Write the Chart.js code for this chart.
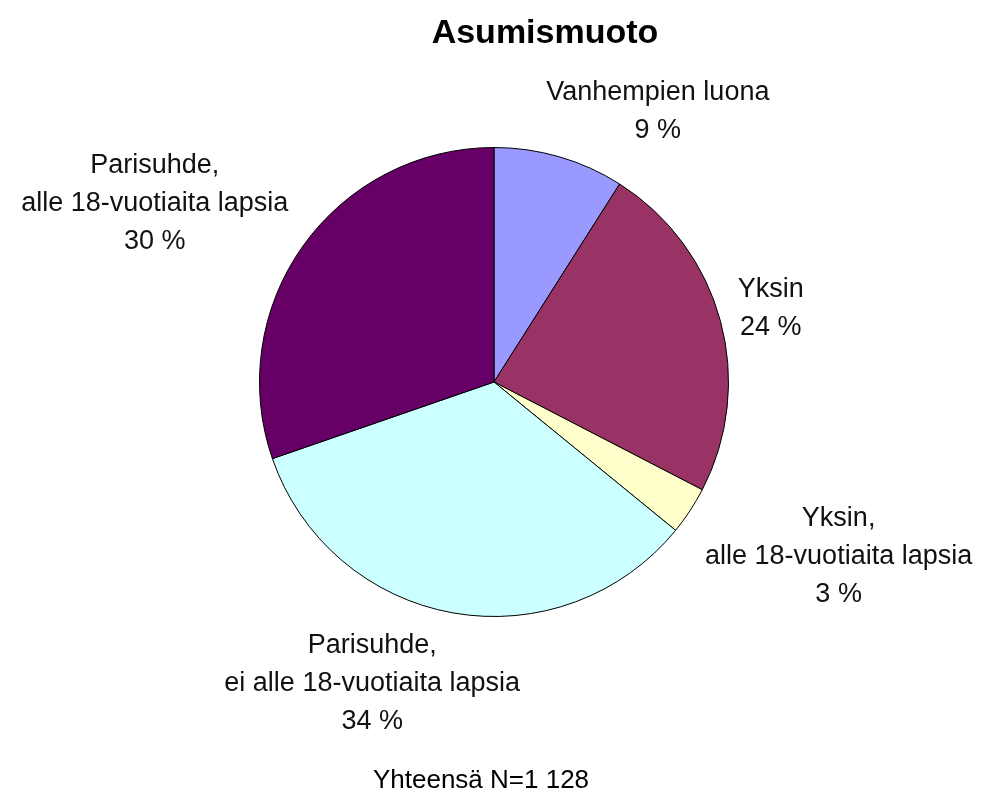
<!DOCTYPE html>
<html>
<head>
<meta charset="utf-8">
<script src="https://cdn.jsdelivr.net/npm/chart.js@4/dist/chart.umd.min.js"></script>
<style>
  html, body { margin: 0; padding: 0; background: #fff; }
  #wrap { width: 991px; height: 801px; position: relative; }
</style>
</head>
<body>
<div id="wrap"><canvas id="c" width="991" height="801"></canvas></div>
<script>
const titleText = "Asumismuoto";
const footerText = "Yhteensä N=1 128";
const categories = [
  ["Vanhempien luona"],
  ["Yksin"],
  ["Yksin,", "alle 18-vuotiaita lapsia"],
  ["Parisuhde,", "ei alle 18-vuotiaita lapsia"],
  ["Parisuhde,", "alle 18-vuotiaita lapsia"]
];
const values = [9.0, 23.6, 3.3, 33.8, 30.3];
const percentLabels = ["9 %", "24 %", "3 %", "34 %", "30 %"];
const colors = ["#9999FF", "#993366", "#FFFFCC", "#CCFFFF", "#660066"];

const FONT = "'Liberation Sans', Arial, sans-serif";

const labelPlugin = {
  id: 'outLabels',
  afterDatasetsDraw(chart) {
    const ctx = chart.ctx;
    const meta = chart.getDatasetMeta(0);
    const fs = 27, lh = 38, pad = 18;
    ctx.save();
    ctx.font = fs + "px " + FONT;
    ctx.fillStyle = "#111";
    ctx.textAlign = "center";
    ctx.textBaseline = "alphabetic";
    meta.data.forEach((arc, i) => {
      const p = arc.getProps(['x','y','startAngle','endAngle','outerRadius'], true);
      const mid = (p.startAngle + p.endAngle) / 2;
      const lines = categories[i].concat([percentLabels[i]]);
      const w = Math.max(...lines.map(l => ctx.measureText(l).width));
      const h = (lines.length - 1) * lh + 24;
      const ax = p.x + (p.outerRadius + pad) * Math.cos(mid);
      const ay = p.y + (p.outerRadius + pad) * Math.sin(mid);
      const fx = Math.min(1, Math.max(0, 0.5 - 1.5 * Math.cos(mid)));
      const fy = Math.min(1, Math.max(0, 0.5 - 0.6 * Math.sin(mid)));
      const left = ax - fx * w, top = ay - fy * h;
      lines.forEach((l, j) => {
        ctx.fillText(l, left + w / 2, top + 12 + lh * j + 10);
      });
    });
    ctx.restore();
  },
  afterDraw(chart) {
    const ctx = chart.ctx;
    ctx.save();
    ctx.fillStyle = "#000";
    ctx.textAlign = "center";
    ctx.textBaseline = "alphabetic";
    ctx.font = "bold 34px " + FONT;
    ctx.fillText(titleText, 545, 43);
    ctx.font = "26px " + FONT;
    ctx.fillText(footerText, 481, 788);
    ctx.restore();
  }
};

new Chart(document.getElementById('c'), {
  type: 'pie',
  data: {
    labels: categories.map(c => c.join(' ')),
    datasets: [{
      data: values,
      backgroundColor: colors,
      borderColor: "#000",
      borderWidth: 1
    }]
  },
  options: {
    responsive: false,
    animation: false,
    layout: { padding: { left: 259, right: 262, top: 147, bottom: 184 } },
    plugins: {
      legend: { display: false },
      tooltip: { enabled: false },
      title: { display: false }
    }
  },
  plugins: [labelPlugin]
});
</script>
</body>
</html>
